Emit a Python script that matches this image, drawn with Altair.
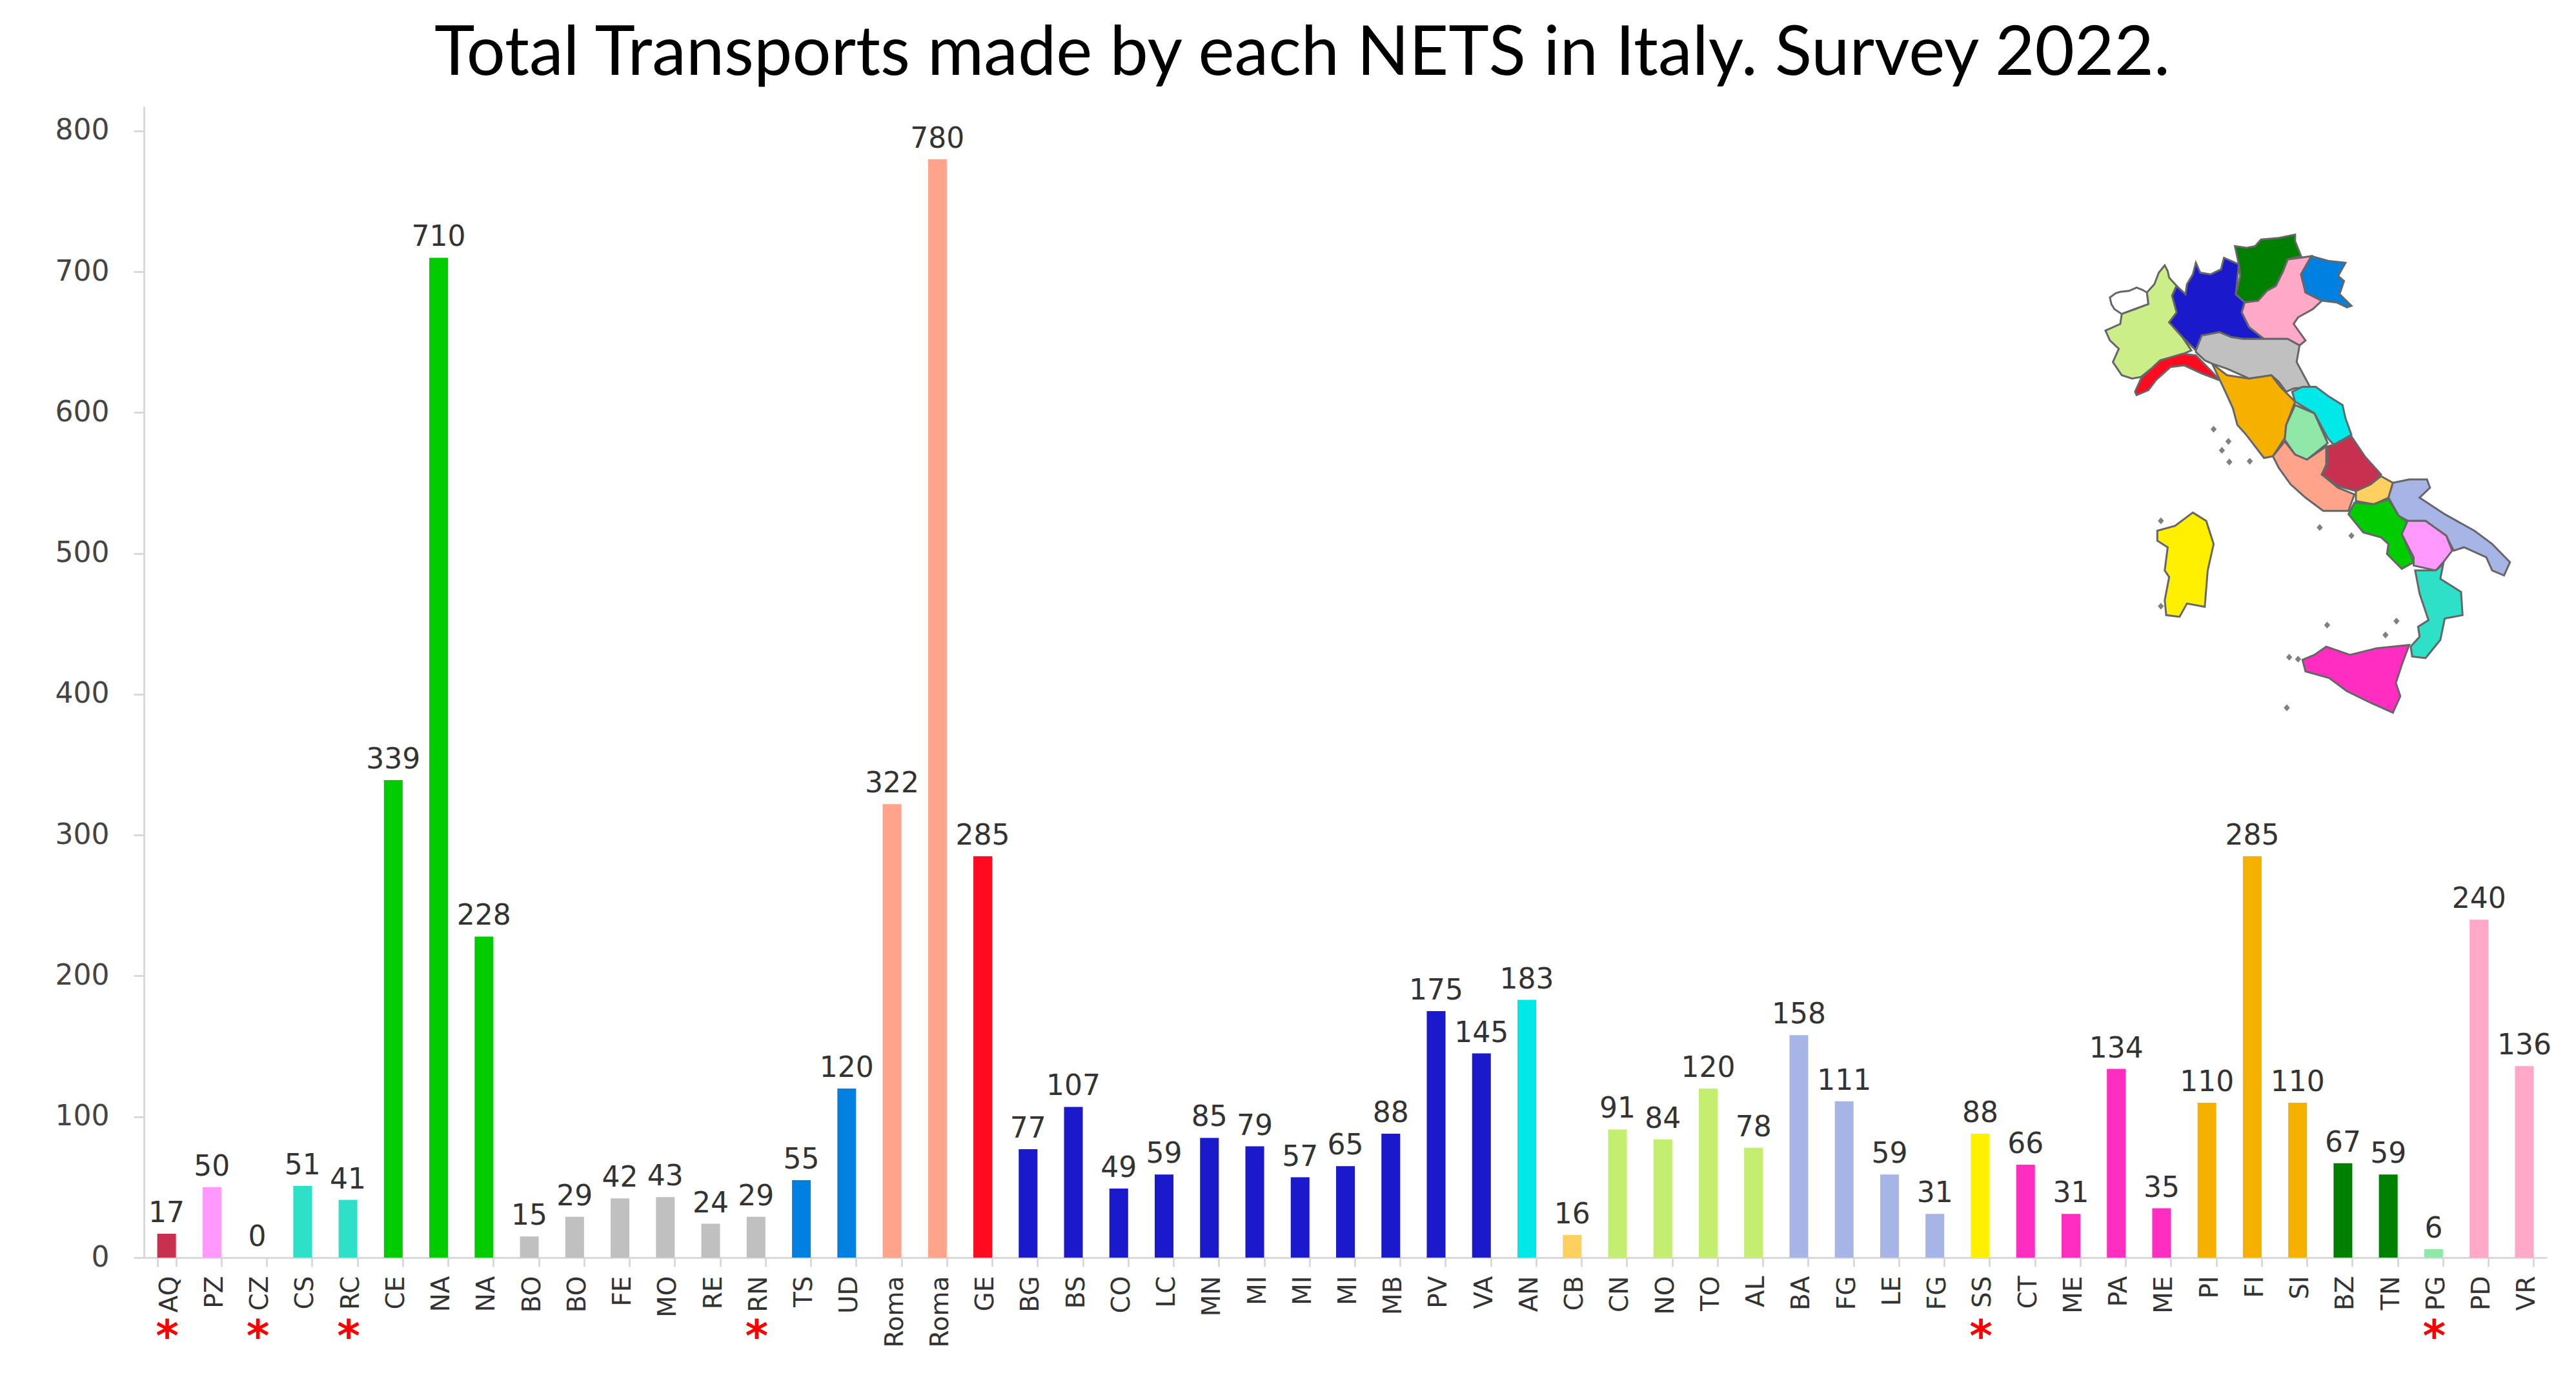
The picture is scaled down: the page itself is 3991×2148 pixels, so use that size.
import altair as alt
import pandas as pd

TITLE = "Total Transports made by each NETS in Italy. Survey 2022."
labels = ["AQ","PZ","CZ","CS","RC","CE","NA","NA","BO","BO","FE","MO","RE","RN","TS","UD","Roma","Roma","GE",
          "BG","BS","CO","LC","MN","MI","MI","MI","MB","PV","VA","AN","CB","CN","NO","TO","AL","BA","FG","LE","FG",
          "SS","CT","ME","PA","ME","PI","FI","SI","BZ","TN","PG","PD","VR"]
values = [17,50,0,51,41,339,710,228,15,29,42,43,24,29,55,120,322,780,285,
          77,107,49,59,85,79,57,65,88,175,145,183,16,91,84,120,78,158,111,59,31,
          88,66,31,134,35,110,285,110,67,59,6,240,136]
C = dict(abr="#C8304F", bas="#FF99FF", cal="#2FE0C8", cam="#00CC00", emi="#C0C0C0", fri="#0080E0", laz="#FFA38A",
         lig="#FF0A1E", lom="#1A1ACC", mar="#00E8E8", mol="#FFD060", pie="#C4EE70", pug="#A6B4E6", sar="#FFF000",
         sic="#FF2EC0", tos="#F5B000", tre="#008000", umb="#90E8A8", ven="#FFA8C8")
regions = ["abr","bas","cal","cal","cal","cam","cam","cam","emi","emi","emi","emi","emi","emi","fri","fri","laz","laz","lig",
           "lom","lom","lom","lom","lom","lom","lom","lom","lom","lom","lom","mar","mol","pie","pie","pie","pie",
           "pug","pug","pug","pug","sar","sic","sic","sic","sic","tos","tos","tos","tre","tre","umb","ven","ven"]
star_idx = [0, 2, 4, 13, 40, 50]

# Map outlines (units of the enlarged crop)
MAP = {
 "#FFFFFF": [(150,275),(170,262),(185,258),(215,255),(240,245),(260,252),(275,260),(280,295),(235,310),(190,325),(165,310),(155,295)],
 "#CCEE88": [(335,178),(345,195),(350,215),(375,240),(360,270),(378,320),(350,350),(395,395),(425,435),(385,450),(320,465),(290,490),(255,515),(225,520),(190,510),(160,470),(180,430),(150,405),(135,375),(185,355),(190,325),(235,310),(280,295),(275,260),(300,235),(315,200)],
 C["lom"]: [(440,170),(455,200),(490,205),(525,190),(535,155),(560,165),(585,175),(575,265),(605,290),(595,320),(620,365),(670,400),(600,400),(560,395),(520,380),(460,390),(440,435),(395,395),(350,350),(375,320),(360,270),(375,240),(405,265),(410,235),(430,205)],
 C["tre"]: [(572,120),(610,125),(640,120),(660,100),(720,95),(775,85),(775,105),(795,150),(750,160),(735,195),(710,240),(680,255),(650,285),(605,290),(575,265),(590,210),(585,175)],
 C["ven"]: [(830,150),(795,205),(810,260),(865,285),(835,310),(785,335),(770,355),(810,405),(790,420),(750,400),(670,400),(620,365),(595,320),(605,290),(650,285),(680,255),(710,240),(735,195),(750,160)],
 C["fri"]: [(830,150),(890,165),(945,170),(920,210),(940,225),(925,265),(965,300),(950,305),(915,290),(865,285),(810,260),(795,205)],
 C["emi"]: [(440,435),(460,390),(520,380),(560,395),(600,400),(670,400),(750,400),(790,420),(780,470),(825,545),(770,550),(745,560),(720,530),(695,510),(620,520),(545,490),(495,475),(470,465),(440,440)],
 C["lig"]: [(235,560),(255,520),(320,465),(395,445),(440,450),(495,500),(520,525),(460,505),(400,480),(355,485),(305,525),(280,555),(240,570)],
 C["tos"]: [(495,475),(545,510),(620,520),(695,510),(725,545),(775,590),(745,660),(740,700),(700,755),(670,760),(610,690),(580,660),(565,610),(545,570)],
 C["mar"]: [(765,560),(800,545),(845,545),(890,575),(935,600),(945,640),(965,690),(905,720),(885,700),(840,625),(775,590)],
 C["umb"]: [(775,600),(840,625),(885,715),(815,765),(775,750),(740,705),(745,660)],
 C["laz"]: [(700,755),(740,710),(775,750),(815,765),(880,725),(880,780),(865,810),(920,850),(975,870),(955,920),(870,920),(810,880),(760,840),(720,790)],
 C["abr"]: [(885,725),(905,720),(965,695),(1010,755),(1065,810),(1030,840),(980,860),(920,845),(865,810),(885,780)],
 C["mol"]: [(1065,815),(1105,835),(1090,880),(1040,900),(980,890),(980,860),(1030,840)],
 C["cam"]: [(975,895),(1040,900),(1090,885),(1125,935),(1155,955),(1135,990),(1175,1075),(1135,1095),(1085,1050),(1090,1020),(1065,1000),(1005,985),(955,930)],
 C["pug"]: [(1105,835),(1160,825),(1220,825),(1230,850),(1195,880),(1280,930),(1380,980),(1440,1020),(1500,1075),(1480,1115),(1440,1100),(1420,1060),(1345,1030),(1310,1040),(1285,995),(1215,950),(1155,950),(1125,935),(1090,880)],
 C["bas"]: [(1155,950),(1215,950),(1285,995),(1305,1040),(1275,1075),(1250,1100),(1175,1085),(1175,1060),(1135,990)],
 C["cal"]: [(1180,1100),(1250,1100),(1275,1080),(1265,1125),(1335,1165),(1340,1235),(1280,1245),(1265,1310),(1215,1365),(1170,1360),(1165,1330),(1195,1300),(1190,1270),(1225,1250),(1195,1170)],
 C["sic"]: [(800,1370),(840,1355),(880,1330),(960,1355),(1050,1335),(1160,1325),(1135,1385),(1115,1440),(1130,1480),(1105,1530),(1030,1500),(950,1465),(890,1425),(810,1405)],
 C["sar"]: [(310,980),(370,965),(430,925),(475,950),(500,1020),(480,1100),(470,1210),(410,1200),(385,1240),(340,1235),(335,1190),(350,1120),(335,1100),(345,1030),(310,1010)],
}
ISLANDS = [(500,673),(550,710),(528,737),(553,772),(622,770),(858,970),(965,995),(883,1265),(1117,1253),(1080,1295),
           (755,1362),(785,1368),(747,1515),(322,950),(322,1208)]
ISLAND_HALF = 6
CROP_X, CROP_Y = 2.178, 1.95   # enlargement of the crop the outlines were read from

def pt(p):
    return [p[0] / CROP_X, p[1] / CROP_Y]

def speck(p):
    a, b = p
    h = ISLAND_HALF
    return [(a - h, b), (a, b - h), (a + h, b), (a, b + h), (a - h, b)]

features = [{"type": "Feature", "properties": {"fill": col, "line": "#666666"},
             "geometry": {"type": "Polygon", "coordinates": [[pt(p) for p in poly] + [pt(poly[0])]]}}
            for col, poly in MAP.items()]
features += [{"type": "Feature", "properties": {"fill": "#808080", "line": "#808080"},
              "geometry": {"type": "Polygon", "coordinates": [[pt(q) for q in speck(p)]]}} for p in ISLANDS]

W, H = 3723, 1784
YMAX = 817.4

df = pd.DataFrame({"idx": range(len(labels)), "label": labels, "value": values,
                   "color": [C[r] for r in regions]})
df["star"] = ["*" if i in star_idx else "" for i in range(len(labels))]

label_expr = "[" + ",".join(f"'{l}'" for l in labels) + "][datum.value]"
GRID = "#D9D9D9"
FONT = "DejaVu Sans"

x = alt.X("idx:O", title=None,
          scale=alt.Scale(paddingInner=0.587, paddingOuter=0.2935),
          axis=alt.Axis(labelExpr=label_expr, labelAngle=270, labelAlign="right", labelBaseline="middle",
                        labelFont=FONT, labelFontSize=39, labelColor="#333333", labelPadding=14, labelOffset=4,
                        tickBand="extent", tickSize=14, tickWidth=3, tickColor=GRID,
                        domainColor=GRID, domainWidth=3))
y = alt.Y("value:Q", title=None,
          scale=alt.Scale(domain=[0, YMAX], nice=False),
          axis=alt.Axis(values=list(range(0, 801, 100)), grid=False, tickSize=16, tickWidth=3, tickColor=GRID,
                        domainColor=GRID, domainWidth=3, labelFont=FONT, labelFontSize=44, labelColor="#444444",
                        labelPadding=38))

base = alt.Chart(df)
bars = base.mark_bar().encode(x=x, y=y, color=alt.Color("color:N", scale=None))
text = base.mark_text(font=FONT, fontSize=44, color="#333333", baseline="alphabetic", dy=-18).encode(
    x=x, y=y, text=alt.Text("value:Q"))
stars = base.transform_filter("datum.star != ''").mark_text(
    font=FONT, fontSize=68, color="#FF0000", baseline="middle", fontWeight="bold", dx=1).encode(
    x=x, y=alt.value(H + 125), text="star:N")

italy = alt.Chart(alt.InlineData(values={"type": "FeatureCollection", "features": features},
                                 format=alt.DataFormat(property="features", type="json"))
                  ).mark_geoshape(strokeWidth=3).encode(
    fill=alt.Fill("properties.fill:N", scale=None),
    stroke=alt.Stroke("properties.line:N", scale=None),
).project(type="identity", scale=1, translate=[2977, 155])

chart = alt.layer(italy, bars, text, stars).properties(
    width=W, height=H,
    title=alt.TitleParams(TITLE, font="Lato", fontSize=106, fontWeight="normal", color="#000000",
                          baseline="alphabetic", anchor="middle", offset=47, dx=-67, dy=104),
    background="#FFFFFF",
    padding={"left": 215, "top": 157, "right": 30, "bottom": 180},
    autosize=alt.AutoSizeParams(type="none"),
).configure_view(stroke=None)

chart.save("out.html", embed_options={"renderer": "svg", "actions": False})
